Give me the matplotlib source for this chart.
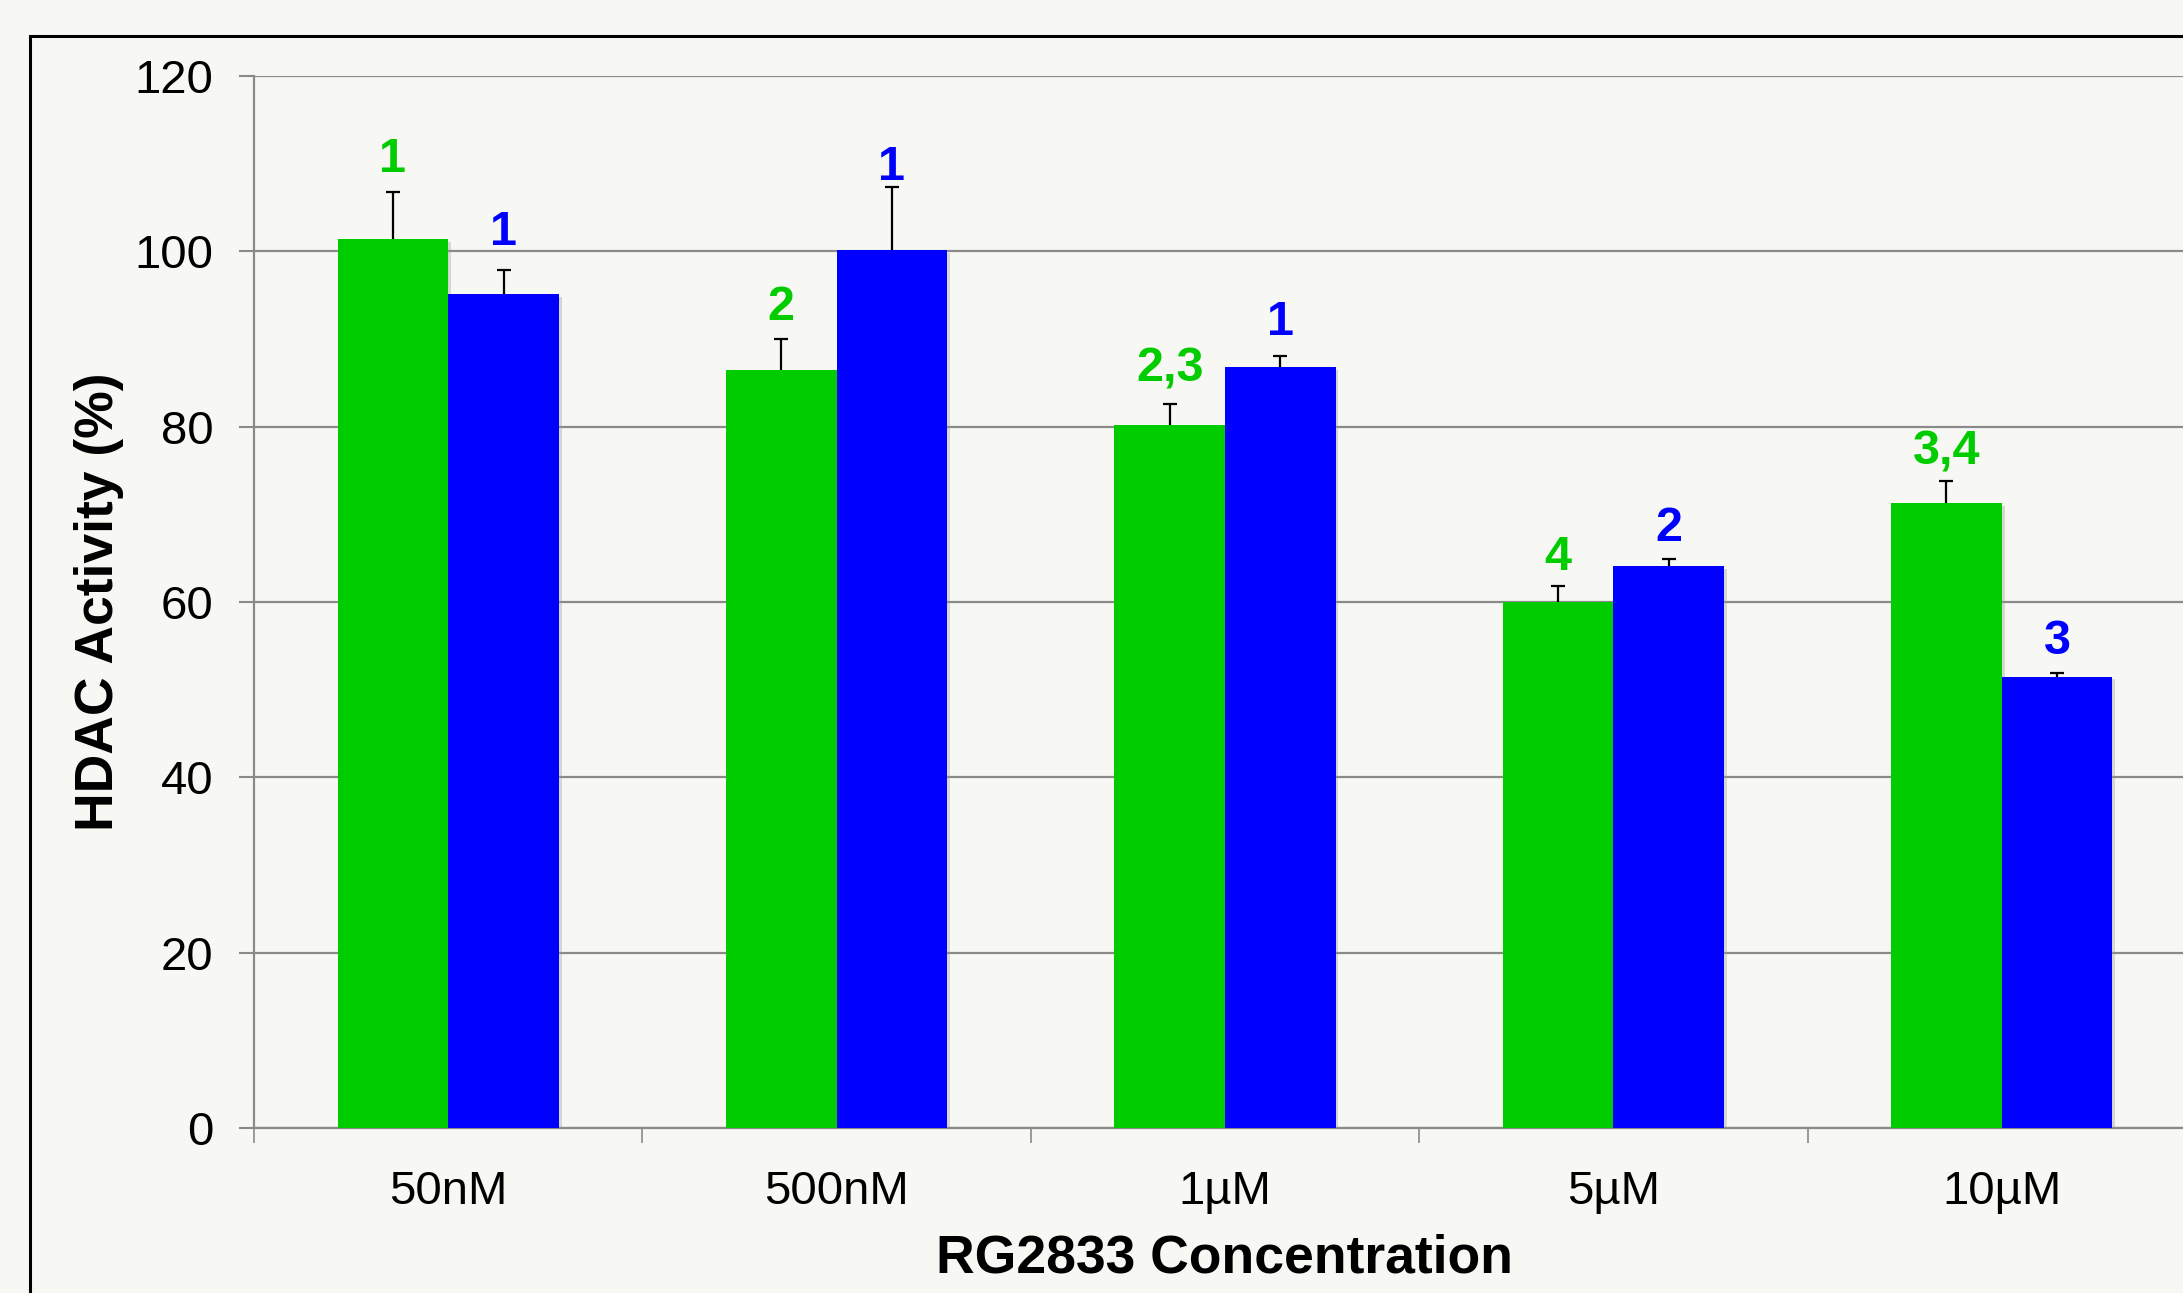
import matplotlib
matplotlib.use("Agg")
import matplotlib.pyplot as plt
import matplotlib.patheffects as pe
from matplotlib.patches import Rectangle
import numpy as np

categories = ["50nM", "500nM", "1\u00b5M", "5\u00b5M", "10\u00b5M"]
green_vals = [101.4, 86.5, 80.2, 60.0, 71.3]
green_err = [5.4, 3.5, 2.4, 1.8, 2.5]
blue_vals = [95.1, 100.1, 86.8, 64.1, 51.5]
blue_err = [2.8, 7.2, 1.3, 0.8, 0.4]
green_labels = ["1", "2", "2,3", "4", "3,4"]
blue_labels = ["1", "1", "1", "2", "3"]
green_label_y = [109.1, 92.2, 85.2, 63.7, 75.7]
blue_label_y = [100.7, 108.1, 90.5, 67.0, 54.1]
yticks = [0, 20, 40, 60, 80, 100, 120]
xlabel = "RG2833 Concentration"
ylabel = "HDAC Activity (%)"

GREEN = "#00cc00"
BLUE = "#0000ff"
BG = "#f7f8f4"
GRID = "#8a8a8a"

plt.rcParams["font.family"] = ["Liberation Sans", "DejaVu Sans"]

W, H = 2183, 1293
fig = plt.figure(figsize=(W / 100, H / 100), dpi=100, facecolor=BG)
left = 254 / W
bottom = 1 - 1128 / H
top = 1 - 76 / H
width = 5 * 388.4 / W
ax = fig.add_axes([left, bottom, width, top - bottom])
ax.set_facecolor(BG)

x = np.arange(len(categories)) + 0.5
bw = 0.285
shadow = [pe.SimplePatchShadow(offset=(2, -2), shadow_rgbFace="#999999", alpha=0.35), pe.Normal()]

gb = ax.bar(x - bw / 2, green_vals, width=bw, color=GREEN, zorder=3)
bb = ax.bar(x + bw / 2, blue_vals, width=bw, color=BLUE, zorder=3)
for p in list(gb) + list(bb):
    p.set_path_effects(shadow)

ekw = dict(fmt="none", ecolor="black", elinewidth=1.6, capsize=5, capthick=1.6, zorder=4)
for xs, vals, errs in [(x - bw / 2, green_vals, green_err), (x + bw / 2, blue_vals, blue_err)]:
    eb = ax.errorbar(xs, vals, yerr=[np.zeros(len(vals)), errs], **ekw)
    caps = eb[1]
    if len(caps) > 1:
        caps[0].set_visible(False)

for xi, lab, ly in zip(x - bw / 2, green_labels, green_label_y):
    ax.text(xi, ly, lab, color=GREEN, fontsize=35, fontweight="bold", ha="center", va="baseline", zorder=5)
for xi, lab, ly in zip(x + bw / 2, blue_labels, blue_label_y):
    ax.text(xi, ly, lab, color=BLUE, fontsize=35, fontweight="bold", ha="center", va="baseline", zorder=5)

ax.set_xlim(0, 5)
ax.set_ylim(0, 120)
ax.set_yticks(yticks)
ax.set_yticklabels([str(v) for v in yticks])
ax.yaxis.grid(True, color=GRID, linewidth=1.6, zorder=0)
ax.set_axisbelow(True)

ax.set_xticks(np.arange(0, 6))
ax.set_xticklabels([])
ax.set_xticks(x, minor=True)
ax.set_xticklabels(categories, minor=True)
ax.tick_params(axis="x", which="major", length=11, width=1.2, color=GRID, direction="out")
ax.tick_params(axis="x", which="minor", length=0, pad=30, labelsize=34)
ax.tick_params(axis="y", length=11, width=1.5, color=GRID, direction="out", pad=18, labelsize=34)

for s in ["top", "right"]:
    ax.spines[s].set_visible(False)
for s in ["left", "bottom"]:
    ax.spines[s].set_color(GRID)
    ax.spines[s].set_linewidth(1.6)

ax.set_xlabel(xlabel, fontsize=38.5, fontweight="bold", labelpad=14)
ax.set_ylabel(ylabel, fontsize=38.5, fontweight="bold", labelpad=8)

fy = 1 - 36 / H
frame = Rectangle((30 / W, -0.2), 1.5, fy + 0.2, transform=fig.transFigure,
                  fill=False, edgecolor="black", linewidth=2.2, clip_on=False, zorder=10)
fig.patches.append(frame)

fig.savefig("out.png", dpi=100, facecolor=BG)
